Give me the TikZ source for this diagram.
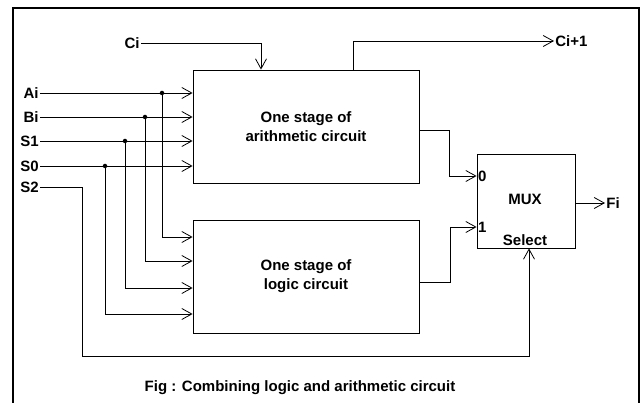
\documentclass[tikz,border=0pt]{standalone}
\usepackage{fontspec}
\setmainfont{Liberation Sans}
\usetikzlibrary{arrows.meta, positioning, calc}

\begin{document}
\begin{tikzpicture}[x=1pt, y=-1pt, line width=0.8pt,
    >={Straight Barb[length=10pt,width=11pt]},
    block/.style={draw, minimum width=226pt, minimum height=113pt, align=center,
                  font=\fontsize{15}{19}\selectfont\bfseries},
    pin/.style={font=\fontsize{15}{17}\selectfont\bfseries, inner sep=1pt},
    junction/.style={circle, fill, inner sep=0pt, minimum size=4.5pt}]
  \useasboundingbox (0,0) rectangle (644,403);
  \draw[line width=2pt] (13,403) -- (13,8) -- (639,8) -- (639,403);

  \node[block] (arith) at (306,126.5) {One stage of\\arithmetic circuit};
  \node[block] (logic) at (306,276.5) {One stage of\\logic circuit};
  \node[draw, minimum width=98pt, minimum height=94pt] (mux) at (526,201) {};
  \node[pin] (muxname) at (525,199) {MUX};
  \node[pin] (select) at (525,240) {Select};
  \node[pin, anchor=west] (in0) at (mux.west |- 0,176) {0};
  \node[pin, anchor=west] (in1) at (mux.west |- 0,227) {1};

  \foreach \name/\txt/\ya/\yl/\xd in {ai/Ai/93/237/162, bi/Bi/117/261/145,
                                       sa/S1/141/288/125, sb/S0/166/314/105} {
    \node[pin, anchor=east] (\name) at (40,\ya) {\txt};
    \draw[->] (\name.east) -- (\name.east -| arith.west);
    \node[junction] (j\name) at (\xd,\ya) {};
    \draw[->] (j\name.center) |- (logic.west |- 0,\yl);
  }

  \node[pin, anchor=east] (ci) at (141,43) {Ci};
  \draw[->] (ci.east) -| ([xshift=-45pt]arith.north);
  \node[pin, anchor=west] (cout) at (554,41) {Ci+1};
  \draw[->] ([xshift=47pt]arith.north) |- (cout.west);

  \draw[->] (arith.east |- 0,130) -- (449,130) |- (mux.west |- in0);
  \draw[->] (logic.east |- 0,282) -- (450,282) |- (mux.west |- in1);

  \node[pin, anchor=west] (fi) at (605,203) {Fi};
  \draw[->] (mux.east |- fi) -- (fi.west);

  \node[pin, anchor=east] (s2) at (40,187) {S2};
  \draw[->] (s2.east) -- (82,187) |- (529,356) -- (mux.south -| 529,0);

  \node[pin] (caption) at (300,388) {Fig : Combining logic and arithmetic circuit};
\end{tikzpicture}
\end{document}
